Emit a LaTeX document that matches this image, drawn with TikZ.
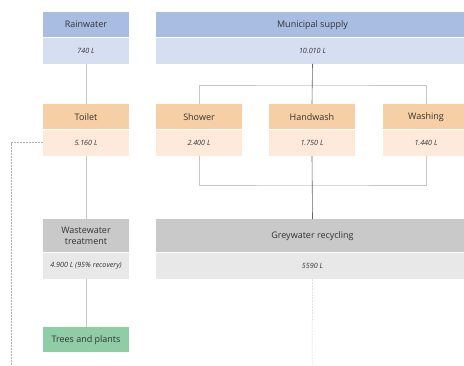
\documentclass[tikz,border=0pt]{standalone}
\usepackage{fontspec}
\setmainfont{Open Sans}
\usepackage{xcolor}
\usepackage{tikz}
\definecolor{blueH}{HTML}{A9BCE2}
\definecolor{blueV}{HTML}{D6DEF2}
\definecolor{orangeH}{HTML}{F7CFA6}
\definecolor{orangeV}{HTML}{FDEADB}
\definecolor{greyH}{HTML}{C9C9C9}
\definecolor{greyV}{HTML}{E8E8E8}
\definecolor{greenH}{HTML}{8ECDA5}
\definecolor{ink}{HTML}{333333}
\usetikzlibrary{positioning}

\begin{document}
\begin{tikzpicture}[
  x=1pt,y=-1pt,
  head/.style={rectangle,minimum width=86pt,minimum height=25pt,inner sep=0pt,
               text centered,font=\fontsize{9}{11}\selectfont,text=ink},
  val/.style={rectangle,minimum width=86pt,minimum height=26pt,inner sep=0pt,
              text centered,font=\fontsize{7.2}{8}\selectfont\itshape,text=ink},
  lnk/.style={color=black!22,line width=0.6pt},
  trunk/.style={color=black!60,line width=0.6pt},
  dot/.style={color=black!30,line width=0.5pt,densely dotted}]
  \useasboundingbox (0,0) rectangle (464,365);
  \node[head,fill=blueH,anchor=north](rain) at (86,12){Rainwater};
  \node[val,fill=blueV,below=0pt of rain](rainv){740 L};
  \node[head,fill=blueH,minimum width=313pt,anchor=north](muni) at (312.5,12){Municipal supply};
  \node[val,fill=blueV,minimum width=313pt,below=0pt of muni](muniv){10.010 L};
  \node[head,fill=orangeH,anchor=north](toilet) at (86,104){Toilet};
  \node[val,fill=orangeV,below=0pt of toilet](toiletv){5.160 L};
  \node[head,fill=orangeH,anchor=north](shower) at (199,104){Shower};
  \node[val,fill=orangeV,below=0pt of shower](showerv){2.400 L};
  \node[head,fill=orangeH,anchor=north](hand) at (312,104){Handwash};
  \node[val,fill=orangeV,below=0pt of hand](handv){1.750 L};
  \node[head,fill=orangeH,anchor=north](wash) at (426,104){Washing};
  \node[val,fill=orangeV,below=0pt of wash](washv){1.440 L};
  \node[head,fill=greyH,minimum height=33pt,align=center,anchor=north](treat) at (86,219){Wastewater\\treatment};
  \node[val,fill=greyV,below=0pt of treat](treatv){4.900 L (95\% recovery)};
  \node[head,fill=greyH,minimum width=313pt,minimum height=33pt,anchor=north](grey) at (312.5,219){Greywater recycling};
  \node[val,fill=greyV,minimum width=313pt,below=0pt of grey](greyv){5590 L};
  \node[head,fill=greenH,anchor=north](trees) at (86,327){Trees and plants};
  \coordinate (split) at (312,85);
  \coordinate (join) at (312,185);
  \coordinate (leftend) at (11,365);
  \coordinate (greyend) at (312,365);
  \draw[lnk](rainv)--(toilet);\draw[lnk](toiletv)--(treat);\draw[lnk](treatv)--(trees);
  \draw[lnk](shower.north)|-(split)-|(wash.north);
  \draw[lnk](showerv.south)|-(join)-|(washv.south);
  \draw[trunk](muniv.south)--(hand.north);
  \draw[trunk](handv.south)--(grey.north);
  \draw[dot](toiletv.west)-|(leftend);
  \draw[dot](greyv.south)--(greyend);
\end{tikzpicture}
\end{document}
